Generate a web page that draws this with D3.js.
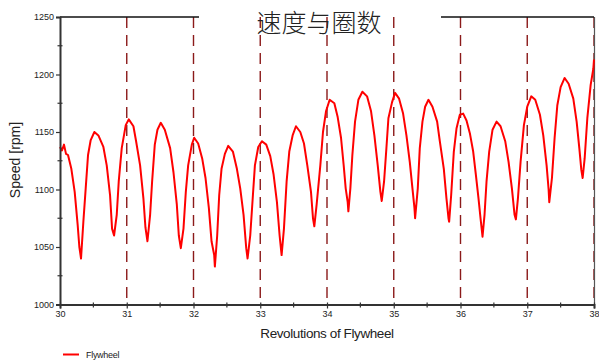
<!DOCTYPE html>
<html><head><meta charset="utf-8">
<script src="https://cdn.jsdelivr.net/npm/d3@7"></script>
<style>body{margin:0;background:#fff}svg{display:block}</style>
</head><body><svg id="c" width="599" height="362"></svg>
<script>
const title = "速度与圈数";
const xLabel = "Revolutions of Flywheel";
const yLabel = "Speed [rpm]";
const seriesName = "Flywheel";
const xTicks = [30,31,32,33,34,35,36,37,38];
const yTicks = [1000,1050,1100,1150,1200,1250];
const revs = [30.0,30.03,30.06,30.09,30.12,30.17,30.22,30.265,30.29,30.315,30.35,30.385,30.42,30.46,30.515,30.575,30.65,30.7,30.75,30.78,30.81,30.85,30.88,30.925,30.985,31.03,31.1,31.14,31.2,31.25,31.28,31.31,31.35,31.38,31.42,31.46,31.51,31.57,31.65,31.7,31.75,31.78,31.81,31.85,31.885,31.92,31.975,32.01,32.07,32.13,32.18,32.23,32.27,32.31,32.32,32.355,32.385,32.42,32.47,32.52,32.59,32.65,32.7,32.75,32.79,32.81,32.85,32.89,32.92,32.97,33.025,33.09,33.15,33.2,33.25,33.29,33.32,33.355,33.395,33.435,33.485,33.535,33.6,33.655,33.705,33.76,33.79,33.81,33.845,33.9,33.94,33.985,34.04,34.11,34.16,34.21,34.25,34.28,34.31,34.32,34.35,34.38,34.42,34.47,34.53,34.6,34.66,34.71,34.76,34.8,34.82,34.855,34.89,34.92,34.975,35.02,35.08,35.14,35.19,35.24,35.28,35.31,35.32,35.36,35.39,35.43,35.47,35.52,35.58,35.65,35.69,35.75,35.79,35.82,35.83,35.86,35.9,35.94,35.99,36.04,36.09,36.14,36.19,36.23,36.27,36.3,36.33,36.36,36.39,36.43,36.48,36.54,36.6,36.67,36.72,36.77,36.81,36.83,36.86,36.9,36.95,37.0,37.06,37.12,37.19,37.24,37.29,37.32,37.33,37.37,37.41,37.45,37.5,37.56,37.62,37.69,37.74,37.78,37.81,37.83,37.86,37.9,37.95,37.99,38.0];
const speed = [1137,1134,1139,1131,1130,1118,1098,1069,1050,1040,1072,1101,1130,1143,1150,1147,1137,1121,1095,1066,1060,1078,1107,1136,1156,1161,1155,1142,1121,1092,1067,1055,1078,1107,1139,1152,1158,1152,1136,1115,1087,1060,1049,1066,1098,1121,1139,1145,1140,1127,1110,1084,1055,1043,1033,1060,1095,1118,1131,1138,1133,1118,1101,1078,1049,1040,1060,1095,1121,1137,1142,1139,1129,1113,1089,1060,1043,1066,1107,1133,1147,1155,1150,1140,1121,1098,1075,1068,1087,1121,1150,1168,1178,1175,1163,1145,1121,1101,1089,1081,1101,1130,1159,1178,1185,1181,1168,1147,1121,1098,1090,1107,1136,1162,1176,1184,1179,1166,1147,1124,1101,1084,1075,1101,1136,1159,1172,1178,1172,1159,1142,1118,1092,1075,1072,1095,1133,1153,1165,1166,1160,1149,1133,1113,1092,1075,1059,1078,1107,1133,1152,1159,1155,1142,1124,1101,1078,1074,1092,1124,1156,1172,1181,1178,1165,1147,1121,1100,1089,1110,1145,1173,1189,1197,1192,1179,1159,1136,1117,1110,1127,1162,1191,1205,1213];

const svg = d3.select("#c");
const m = {l:60, r:594, t:17, b:304.5};
const x = d3.scaleLinear().domain([30,38]).range([m.l, m.r]);
const y = d3.scaleLinear().domain([1000,1250]).range([m.b, m.t]);
const font = "'Liberation Sans', Arial, sans-serif";

// vertical dashed lines
svg.append("g").selectAll("line").data(xTicks.slice(1)).join("line")
  .attr("x1", d=>x(d)).attr("x2", d=>x(d)).attr("y1", m.t).attr("y2", m.b)
  .attr("stroke", "#8b1a1a").attr("stroke-width", 1.4).attr("stroke-dasharray", "11,7");

// top border segments and right border
svg.append("line").attr("x1", m.l).attr("x2", 199).attr("y1", m.t).attr("y2", m.t).attr("stroke", "#111").attr("stroke-width", 1.5);
svg.append("line").attr("x1", 441).attr("x2", m.r).attr("y1", m.t).attr("y2", m.t).attr("stroke", "#111").attr("stroke-width", 1.5);
svg.append("line").attr("x1", m.r+0.5).attr("x2", m.r+0.5).attr("y1", m.t).attr("y2", m.b).attr("stroke", "#555").attr("stroke-width", 1.2);

// data line
const line = d3.line().x((d,i)=>x(revs[i])).y(d=>y(d));
svg.append("path").datum(speed).attr("d", line).attr("fill","none")
  .attr("stroke","#ff0000").attr("stroke-width",2).attr("stroke-linejoin","round");

// y axis
const yAxis = d3.axisLeft(y).tickValues(yTicks).tickSize(4).tickPadding(2).tickFormat(d3.format("d"));
const gy = svg.append("g").attr("transform", `translate(${m.l},0)`).call(yAxis);
gy.select(".domain").attr("stroke","#333").attr("stroke-width",2);
gy.selectAll(".tick line").attr("stroke","#333").attr("stroke-width",1.2);
gy.selectAll("text").attr("font-family", font).attr("font-size", 9).attr("fill","#222");
const yMinor = d3.range(1025, 1250, 50);
svg.append("g").selectAll("line").data(yMinor).join("line")
  .attr("x1", m.l-2.5).attr("x2", m.l+2.5).attr("y1", d=>y(d)).attr("y2", d=>y(d))
  .attr("stroke","#333").attr("stroke-width",1.2);

// x axis
const xAxis = d3.axisBottom(x).tickValues(xTicks).tickSize(4).tickPadding(2).tickFormat(d3.format("d"));
const gx = svg.append("g").attr("transform", `translate(0,${m.b})`).call(xAxis);
gx.select(".domain").attr("stroke","#333").attr("stroke-width",2);
gx.selectAll(".tick line").attr("stroke","#333").attr("stroke-width",1.2).attr("y1",-2);
gx.selectAll("text").attr("font-family", font).attr("font-size", 9).attr("fill","#222");
const xMinor = d3.range(30.5, 38, 1);
svg.append("g").selectAll("line").data(xMinor).join("line")
  .attr("x1", d=>x(d)).attr("x2", d=>x(d)).attr("y1", m.b-2).attr("y2", m.b+3)
  .attr("stroke","#333").attr("stroke-width",1.2);

// title
svg.append("text").attr("x", 319).attr("y", 32).attr("text-anchor","middle")
  .attr("font-family","'Noto Sans CJK SC', sans-serif").attr("font-size",25).attr("font-weight",300)
  .attr("fill","#222").text(title);

// axis labels
svg.append("text").attr("x", 327).attr("y", 338).attr("text-anchor","middle")
  .attr("font-family", font).attr("font-size",13.5).attr("letter-spacing",-0.4).attr("fill","#222").text(xLabel);
svg.append("text").attr("transform","translate(20,160) rotate(-90)").attr("text-anchor","middle")
  .attr("font-family", font).attr("font-size",14).attr("fill","#222").text(yLabel);

// legend
svg.append("line").attr("x1",63).attr("x2",79).attr("y1",354.5).attr("y2",354.5).attr("stroke","#ff0000").attr("stroke-width",2);
svg.append("text").attr("x",86).attr("y",358).attr("font-family",font).attr("font-size",9)
  .attr("letter-spacing",-0.3).attr("fill","#222").text(seriesName);
</script></body></html>
